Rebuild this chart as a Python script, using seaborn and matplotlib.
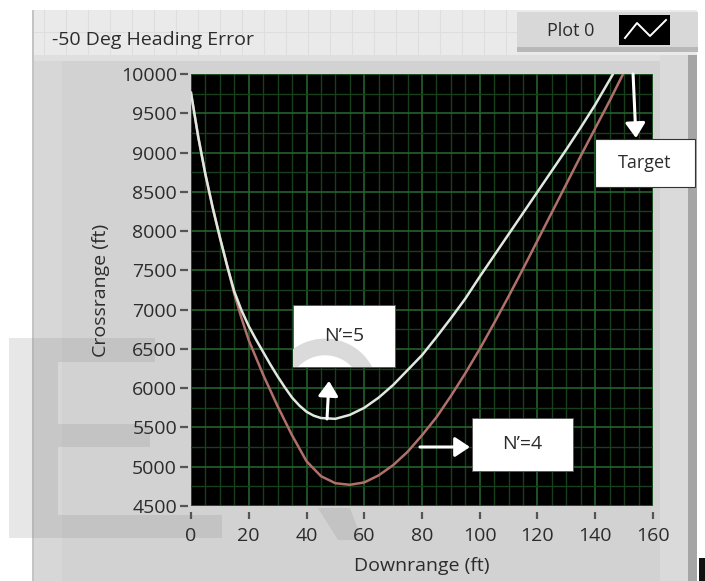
import pandas as pd
import matplotlib.pyplot as plt
import seaborn as sns
from matplotlib.patches import Rectangle, Arc, Polygon
from matplotlib.lines import Line2D
from matplotlib.ticker import MultipleLocator

# N'=5 (white) and N'=4 (red) trajectories
downrange_n5 = [0, 2.5, 5, 7.5, 10, 12.5, 15, 17.5, 20, 22.5, 25, 27.5, 30, 32.5, 35, 37.5, 40,
                42.5, 45, 50, 55, 60, 65, 70, 75, 80, 85, 90, 95, 100, 105, 110, 115, 120, 125,
                130, 135, 140, 146]
crossrange_n5 = [9760, 9200, 8720, 8300, 7920, 7560, 7230, 6990, 6790, 6620, 6460, 6300, 6150,
                 6010, 5880, 5780, 5700, 5650, 5620, 5610, 5660, 5750, 5880, 6040, 6230, 6420,
                 6650, 6890, 7140, 7420, 7690, 7960, 8230, 8500, 8770, 9040, 9320, 9610, 9990]
downrange_n4 = [0, 2.5, 5, 7.5, 10, 12.5, 15, 17.5, 20, 25, 30, 35, 40, 45, 50, 55, 60, 65, 70,
                75, 80, 85, 90, 95, 100, 105, 110, 115, 120, 125, 130, 135, 140, 145, 149.5]
crossrange_n4 = [9760, 9200, 8720, 8300, 7920, 7560, 7200, 6890, 6610, 6170, 5770, 5400, 5070,
                 4880, 4790, 4770, 4800, 4890, 5020, 5190, 5400, 5630, 5900, 6190, 6500, 6830,
                 7170, 7520, 7880, 8240, 8600, 8960, 9310, 9660, 9990]
x_ticks = [0, 20, 40, 60, 80, 100, 120, 140, 160]
y_ticks = [4500, 5000, 5500, 6000, 6500, 7000, 7500, 8000, 8500, 9000, 9500, 10000]

W, H = 705, 581
plt.rcParams['font.family'] = ['Open Sans', 'DejaVu Sans']
txt = '#2c2c2c'

fig = plt.figure(figsize=(W / 100, H / 100), dpi=100)
fig.patch.set_facecolor('white')


def box(x0, y0, x1, y1, color, z=-2, **kw):
    # rectangle in picture pixels (top-left origin)
    r = Rectangle((x0 / W, 1 - y1 / H), (x1 - x0) / W, (y1 - y0) / H,
                  transform=fig.transFigure, facecolor=color, edgecolor='none', zorder=z, **kw)
    fig.add_artist(r)
    return r


# LabVIEW style panel
box(33, 10, 697, 581, '#eaeaea')
for gx in range(44, 520, 22):
    fig.add_artist(Line2D([gx / W, gx / W], [1 - 10 / H, 1 - 55 / H], color='#dedede',
                          lw=0.8, transform=fig.transFigure, zorder=-2))
fig.add_artist(Line2D([33 / W, 517 / W], [1 - 32 / H, 1 - 32 / H], color='#dedede',
                      lw=0.8, transform=fig.transFigure, zorder=-2))
box(33, 55, 697, 581, '#d2d2d2')
box(33, 55, 697, 61, '#dfdfdf')
box(33, 61, 62, 581, '#d7d7d7')
box(660, 55, 688, 581, '#dadada')
box(688, 55, 697, 581, '#a5a5a5')
box(32, 10, 34, 581, '#c4c4c4')
box(699, 558, 705, 581, '#111111')

# legend "Plot 0"
box(517, 12, 698, 50, '#d8d8d8')
box(517, 47, 698, 52, '#b8b8b8')
fig.text(571 / W, 1 - 31 / H, 'Plot 0', fontsize=13, color=txt, ha='center', va='center')
box(619, 15, 670, 45, 'black', z=-1)
zig_x = [625, 637, 650, 666]
zig_y = [38, 23, 36, 20]
fig.add_artist(Line2D([v / W for v in zig_x], [1 - v / H for v in zig_y], color='white',
                      lw=1.4, transform=fig.transFigure, zorder=-0.5))

fig.text(52 / W, 1 - 40 / H, '-50 Deg Heading Error', fontsize=14, color=txt,
         ha='left', va='center')

# faint watermark
wm = dict(z=-1, alpha=0.2)
box(9, 338, 58, 538, '#8a8a8a', **wm)
box(58, 338, 155, 362, '#8a8a8a', **wm)
box(58, 424, 150, 447, '#8a8a8a', **wm)
box(58, 515, 222, 538, '#8a8a8a', **wm)
leg = Polygon([(318 / W, 1 - 508 / H), (350 / W, 1 - 508 / H), (362 / W, 1 - 540 / H),
               (338 / W, 1 - 540 / H)], closed=True, transform=fig.transFigure,
              facecolor='#8a8a8a', edgecolor='none', alpha=0.2, zorder=-1)
fig.add_artist(leg)

ax = fig.add_axes([191 / W, 1 - 506 / H, 462 / W, 432 / H])
ax.set_facecolor('black')

df5 = pd.DataFrame({'Downrange': downrange_n5, 'Crossrange': crossrange_n5})
df4 = pd.DataFrame({'Downrange': downrange_n4, 'Crossrange': crossrange_n4})
sns.lineplot(data=df4, x='Downrange', y='Crossrange', ax=ax, color='#b0706a', lw=1.8,
             sort=False, estimator=None, zorder=3)
sns.lineplot(data=df5, x='Downrange', y='Crossrange', ax=ax, color='#dfe8df', lw=1.8,
             sort=False, estimator=None, zorder=4)

ax.set_xlim(0, 160)
ax.set_ylim(4500, 10000)
ax.set_xticks(x_ticks)
ax.set_yticks(y_ticks)
ax.xaxis.set_minor_locator(MultipleLocator(5))
ax.yaxis.set_minor_locator(MultipleLocator(250))
ax.grid(which='major', color='#24622b', lw=1.2)
ax.grid(which='minor', color='#173f1b', lw=1.0)
ax.set_axisbelow(True)
for s in ax.spines.values():
    s.set_visible(False)
ax.spines['bottom'].set_position(('outward', 4))
ax.spines['left'].set_position(('outward', 2))
ax.tick_params(axis='x', which='major', length=5, width=1.6, color='#555555', pad=6,
               labelsize=14, labelcolor=txt)
ax.tick_params(axis='y', which='major', length=6, width=1.6, color='#555555', pad=2,
               labelsize=14, labelcolor=txt)
ax.tick_params(which='minor', length=0)
ax.set_xlabel('Downrange (ft)', fontsize=14, color=txt, labelpad=9)
ax.set_ylabel('Crossrange (ft)', fontsize=14, color=txt, labelpad=8)

# callouts
arrow = dict(arrowstyle='-|>,head_length=0.45,head_width=0.3', color='white', lw=2.2,
             mutation_scale=20, shrinkA=0, shrinkB=0)

b5 = Rectangle((35.3, 6270), 35.3, 789, facecolor='white', edgecolor='#555555', lw=0.6, zorder=5)
ax.add_patch(b5)
bow = Arc((46.4, 5952), 31.2, 1146, theta1=15, theta2=180, color='#dadada', lw=12, zorder=5.5)
ax.add_patch(bow)
bow.set_clip_path(b5)
ax.text(52.9, 6665, 'N’=5', fontsize=14, color=txt, ha='center', va='center', zorder=6)
ax.annotate('', xy=(47.8, 6092), xytext=(47.1, 5608), arrowprops=arrow, zorder=6)

ax.add_patch(Rectangle((97.3, 4946), 35.0, 675, facecolor='white', edgecolor='#555555',
                       lw=0.6, zorder=5))
ax.text(114.8, 5283, 'N’=4', fontsize=14, color=txt, ha='center', va='center', zorder=6)
ax.annotate('', xy=(96.6, 5251), xytext=(79.3, 5251), arrowprops=arrow, zorder=6)

ax.add_patch(Rectangle((139.9, 8561), 34.6, 611, facecolor='white', edgecolor='#333333',
                       lw=0.8, zorder=5, clip_on=False))
ax.text(157.2, 8866, 'Target', fontsize=13, color=txt, ha='center', va='center', zorder=6,
        clip_on=False)
ax.annotate('', xy=(154.1, 9185), xytext=(153.1, 10000), arrowprops=arrow, zorder=6,
            annotation_clip=False)

plt.savefig('out.png', dpi=100)
plt.close()
